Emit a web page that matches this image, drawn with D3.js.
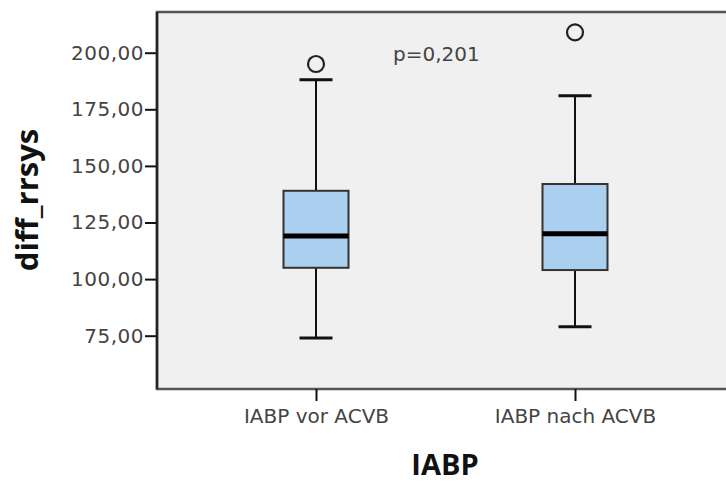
<!DOCTYPE html>
<html>
<head>
<meta charset="utf-8">
<script src="https://cdn.jsdelivr.net/npm/d3@7"></script>
<style>
  html, body { margin: 0; padding: 0; background: #ffffff; }
  svg { display: block; }
</style>
</head>
<body>
<svg id="chart" width="726" height="484"></svg>
<script>
// ---- data ----
const categories = ["IABP vor ACVB", "IABP nach ACVB"];
const whiskerLow  = [74, 79];
const q1          = [105, 104];
const median      = [119, 120];
const q3          = [139, 142];
const whiskerHigh = [188, 181];
const outliers    = [[195], [209]];
const yTicks      = [75, 100, 125, 150, 175, 200];
const pLabel      = "p=0,201";
const xTitle      = "IABP";
const yTitle      = "diff_rrsys";

// ---- layout ----
const plot = { left: 157, top: 12, right: 740, bottom: 389 };

const svg = d3.select("#chart");

const y = d3.scaleLinear().domain([75, 200]).range([335.7, 52.7]);
const x = d3.scalePoint().domain(categories).range([316, 575]);

// plot background + frame
svg.append("rect")
  .attr("x", plot.left).attr("y", plot.top)
  .attr("width", plot.right - plot.left).attr("height", plot.bottom - plot.top)
  .attr("fill", "#f0f0f0")
  .attr("stroke", "#555").attr("stroke-width", 2.5);

// y axis
const yAxis = svg.append("g")
  .attr("transform", `translate(${plot.left},0)`)
  .call(d3.axisLeft(y).tickValues(yTicks).tickSize(12).tickPadding(1)
        .tickFormat(d => d3.format(".2f")(d).replace(".", ",")));
yAxis.select(".domain").remove();
yAxis.selectAll(".tick line").attr("stroke", "#111").attr("stroke-width", 2);
yAxis.selectAll(".tick text")
  .attr("font-family", "DejaVu Sans").attr("font-size", 20)
  .attr("letter-spacing", 0.5)
  .attr("fill", "#444");

// left axis line (darker)
svg.append("line")
  .attr("x1", plot.left).attr("x2", plot.left)
  .attr("y1", plot.top).attr("y2", plot.bottom)
  .attr("stroke", "#222").attr("stroke-width", 2.5);

// x axis
const xAxis = svg.append("g")
  .attr("transform", `translate(0,${plot.bottom})`)
  .call(d3.axisBottom(x).tickSize(12).tickPadding(8));
xAxis.select(".domain").remove();
xAxis.selectAll(".tick line").attr("stroke", "#111").attr("stroke-width", 2);
xAxis.selectAll(".tick text")
  .attr("font-family", "DejaVu Sans").attr("font-size", 20)
  .attr("fill", "#444");

// boxes
const boxW = 65, capW = 33;
const data = categories.map((c, i) => ({
  c, lo: whiskerLow[i], q1: q1[i], med: median[i], q3: q3[i], hi: whiskerHigh[i], out: outliers[i]
}));

const g = svg.append("g");
data.forEach(d => {
  const cx = x(d.c);
  g.append("line").attr("x1", cx).attr("x2", cx).attr("y1", y(d.q3)).attr("y2", y(d.hi))
    .attr("stroke", "#111").attr("stroke-width", 2);
  g.append("line").attr("x1", cx).attr("x2", cx).attr("y1", y(d.q1)).attr("y2", y(d.lo))
    .attr("stroke", "#111").attr("stroke-width", 2);
  [d.hi, d.lo].forEach(v => {
    g.append("line").attr("x1", cx - capW / 2).attr("x2", cx + capW / 2)
      .attr("y1", y(v)).attr("y2", y(v))
      .attr("stroke", "#111").attr("stroke-width", 3);
  });
  g.append("rect")
    .attr("x", cx - boxW / 2).attr("y", y(d.q3))
    .attr("width", boxW).attr("height", y(d.q1) - y(d.q3))
    .attr("fill", "#abcfee").attr("stroke", "#333").attr("stroke-width", 2);
  g.append("line").attr("x1", cx - boxW / 2).attr("x2", cx + boxW / 2)
    .attr("y1", y(d.med)).attr("y2", y(d.med))
    .attr("stroke", "#000").attr("stroke-width", 5);
  d.out.forEach(v => {
    g.append("circle").attr("cx", cx).attr("cy", y(v)).attr("r", 8)
      .attr("fill", "none").attr("stroke", "#222").attr("stroke-width", 2.2);
  });
});

// p-value annotation
svg.append("text")
  .attr("x", 393).attr("y", 61)
  .attr("font-family", "DejaVu Sans").attr("font-size", 20)
  .attr("fill", "#444")
  .text(pLabel);

// axis titles
svg.append("text")
  .attr("x", 445).attr("y", 475)
  .attr("text-anchor", "middle")
  .attr("font-family", "Open Sans").attr("font-weight", "bold").attr("font-size", 29)
  .attr("fill", "#111")
  .text(xTitle);

svg.append("text")
  .attr("transform", "translate(38,200) rotate(-90)")
  .attr("text-anchor", "middle")
  .attr("font-family", "Open Sans").attr("font-weight", "bold").attr("font-size", 31)
  .attr("fill", "#111")
  .text(yTitle);
</script>
</body>
</html>
